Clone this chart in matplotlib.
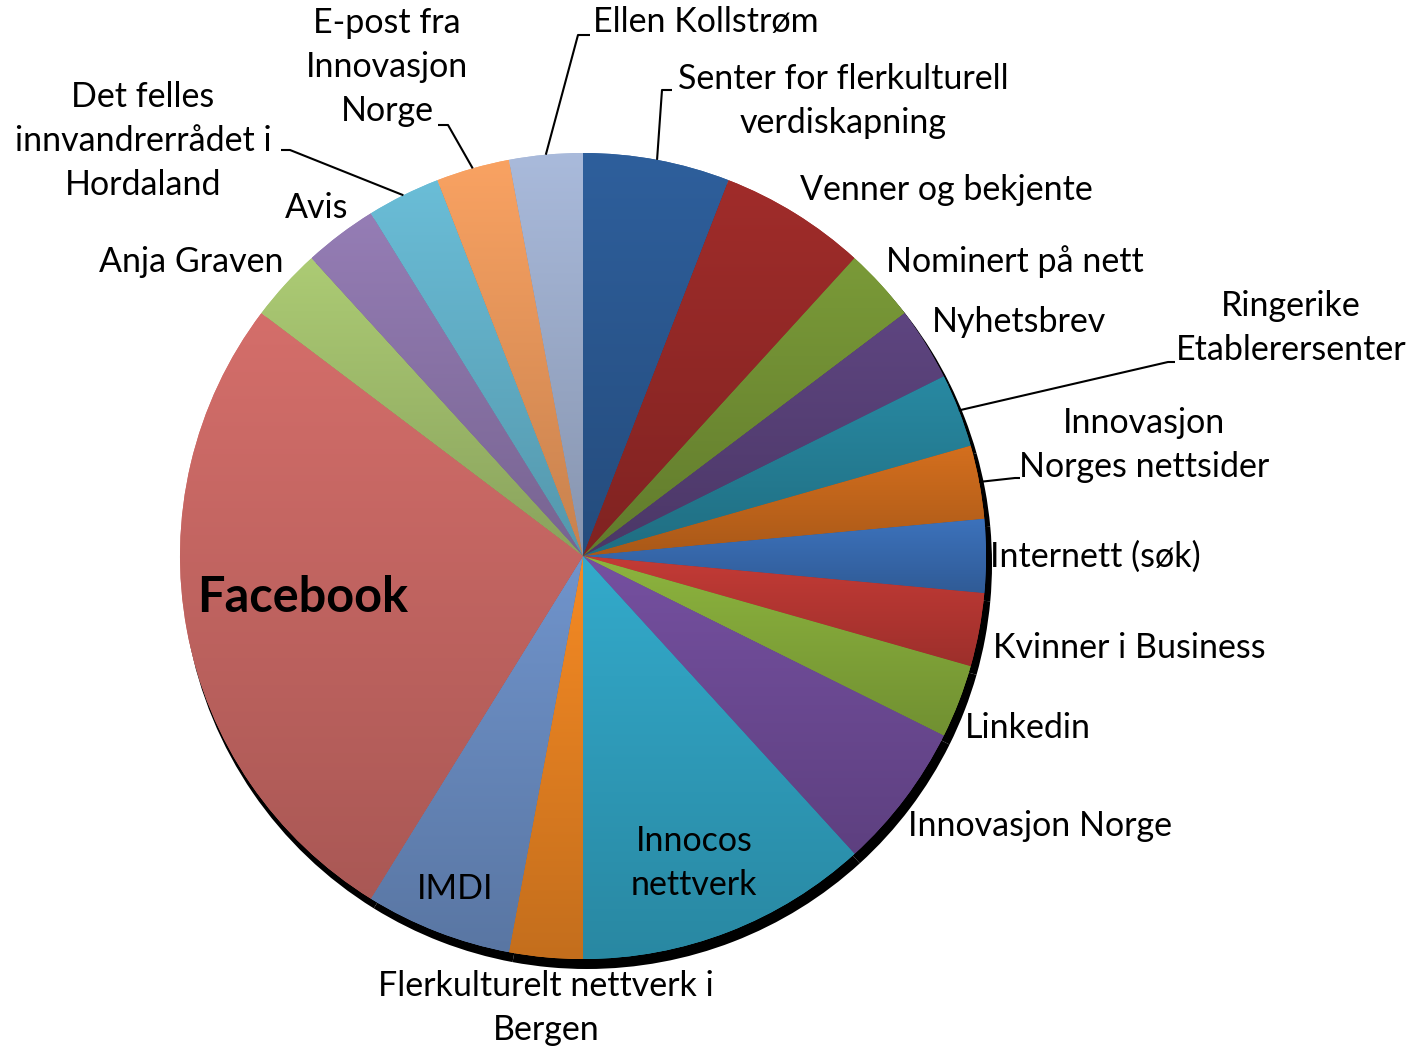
import numpy as np
import matplotlib.pyplot as plt
from matplotlib.patches import Wedge
from matplotlib.colors import to_rgb

W, H = 1426, 1053

labels = ["Senter for flerkulturell\nverdiskapning", "Venner og bekjente",
          "Nominert på nett", "Nyhetsbrev", "Ringerike\nEtablerersenter",
          "Innovasjon\nNorges nettsider", "Internett (søk)", "Kvinner i Business",
          "Linkedin", "Innovasjon Norge", "Innocos\nnettverk",
          "Flerkulturelt nettverk i\nBergen", "IMDI", "Facebook", "Anja Graven",
          "Avis", "Det felles\ninnvandrerrådet i\nHordaland",
          "E-post fra\nInnovasjon\nNorge", "Ellen Kollstrøm"]
values = [2, 2, 1, 1, 1, 1, 1, 1, 1, 2, 4, 1, 2, 9, 1, 1, 1, 1, 1]
colors = ["#2E5F9C", "#A02C2A", "#7A9A38", "#5E4580", "#2889A2", "#D46F1E",
          "#3C72BC", "#C43B36", "#8DB43E", "#7550A0", "#33AACB", "#F58A24",
          "#7094CC", "#D46E6A", "#ACCB74", "#957DB5", "#6ABDD7", "#F9A262",
          "#A9BADB"]

# label placement in reference pixel coords: (x, y, ha), optional elbow for leader
label_pos = [(843, 101, "center"), (800, 190, "left"), (886, 262, "left"),
             (932, 322, "left"), (1291, 328, "center"), (1144, 445, "center"),
             (990, 557, "left"), (993, 648, "left"), (965, 728, "left"),
             (908, 826, "left"), (694, 863, "center"), (546, 1008, "center"),
             (455, 889, "center"), (303, 598, "center"), (99, 262, "left"),
             (285, 208, "left"), (143, 141, "center"), (387, 67, "center"),
             (593, 22, "left")]
elbows = {0: (662, 90, 672), 4: (1168, 362, 1175), 5: (1015, 478, 1020),
          16: (290, 150, 281), 17: (448, 125, 438), 18: (578, 35, 590)}

cx, cy, r = 583, H - 556, 403

plt.rcParams['font.family'] = ['Lato', 'DejaVu Sans']
fig = plt.figure(figsize=(W / 100, H / 100), dpi=100, facecolor='w')
ax = fig.add_axes([0, 0, 1, 1])

wedges, _ = ax.pie(values, colors=colors, startangle=90, counterclock=False,
                   center=(cx, cy), radius=r, wedgeprops=dict(linewidth=0))

for i, w in enumerate(wedges):
    # shadow behind every slice
    sh = Wedge((w.center[0] + 4, w.center[1] - 8), r + 2, w.theta1, w.theta2,
               facecolor='black', linewidth=0, zorder=0)
    ax.add_patch(sh)
    w.set_zorder(1)
    # vertical gradient inside the slice
    ext = w.get_path().get_extents()
    top = np.array(to_rgb(colors[i]))
    f = np.linspace(1.0, 0.8, 64)[:, None, None]
    img = np.clip(top[None, None, :] * f, 0, 1)
    im = ax.imshow(img, extent=(ext.x0, ext.x1, ext.y0, ext.y1), origin='upper',
                   aspect='auto', interpolation='bilinear', zorder=2)
    im.set_clip_path(w)

for i, w in enumerate(wedges):
    x, y, ha = label_pos[i]
    if i == 13:
        ax.text(x, H - y, labels[i], ha=ha, va='center', fontsize=35,
                fontweight='bold', zorder=5)
    else:
        ax.text(x, H - y, labels[i], ha=ha, va='center', fontsize=24.5,
                linespacing=1.45, zorder=5)
    if i in elbows:
        ang = np.deg2rad((w.theta1 + w.theta2) / 2)
        x0 = cx + r * np.cos(ang)
        y0 = cy + r * np.sin(ang)
        ex, ey, tx = elbows[i]
        ax.plot([x0, ex, tx], [y0, H - ey, H - ey], color='black', lw=1.5,
                zorder=4, solid_capstyle='butt')

ax.set_xlim(0, W)
ax.set_ylim(0, H)
ax.set_aspect('equal')
ax.axis('off')
plt.savefig("out.png", dpi=100, facecolor='w')
